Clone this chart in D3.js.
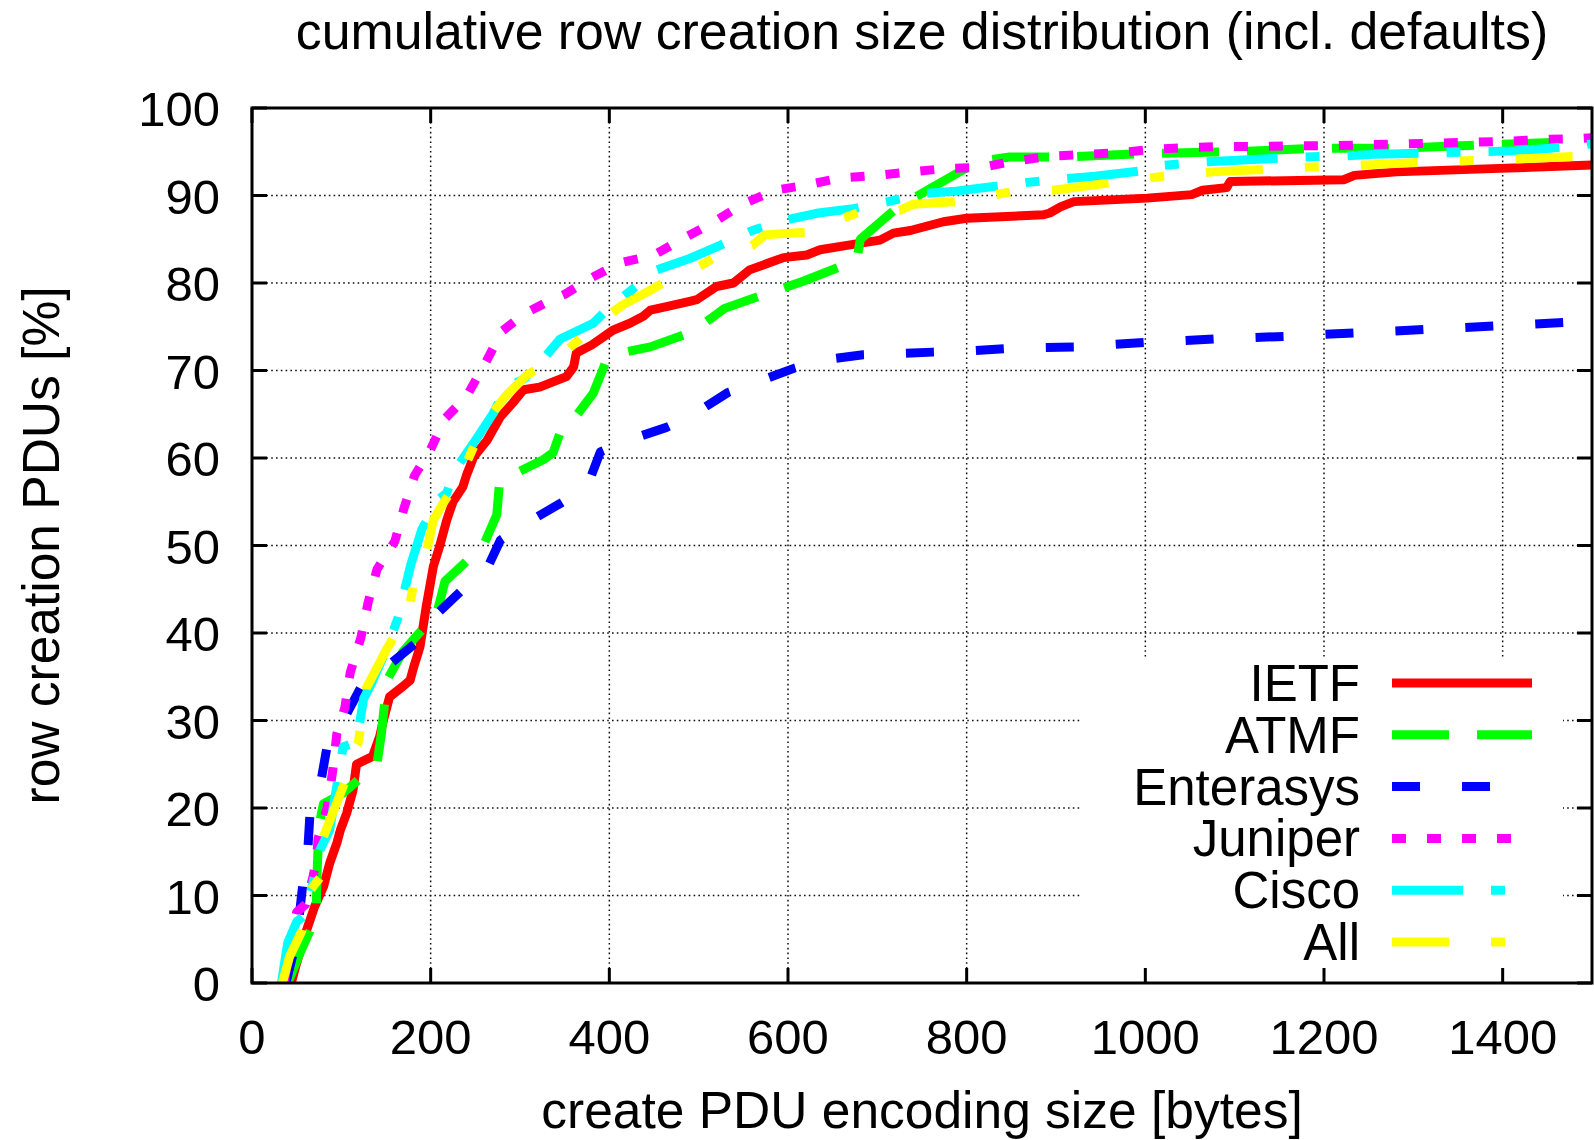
<!DOCTYPE html>
<html>
<head>
<meta charset="utf-8">
<script src="https://cdn.jsdelivr.net/npm/d3@7/dist/d3.min.js"></script>
<style>
body{margin:0;background:#fff;}
text{font-family:"Liberation Sans",Arial,Helvetica,sans-serif;fill:#000;}
</style>
</head>
<body>
<script>

//cumulative curves, [size in bytes, percent]
var ietf = [[44,0],[50,2.3],[61,6],[70,8.7],[80,11],[87,13.7],[95,16],[99,17.5],[106,19.4],[113,22],[117,25],[135,25.9],[143,28.2],[147,30],[154,32.7],[169,33.9],[177,34.6],[181,36.1],[188,38.4],[195,43],[203,47.6],[210,49.9],[218,52.9],[225,55],[236,56.7],[240,58],[248,60.1],[263,62],[278,64.7],[292,66.3],[304,67.8],[322,68.1],[337,68.7],[352,69.3],[360,70.4],[363,72],[380,72.9],[390,73.6],[404,74.6],[423,75.4],[438,76.2],[446,76.9],[464,77.3],[490,77.9],[498,78.1],[520,79.6],[539,80],[557,81.5],[595,82.9],[621,83.2],[636,83.8],[666,84.3],[703,84.9],[718,85.7],[737,86],[774,87],[800,87.4],[886,87.8],[893,88],[905,88.7],[920,89.3],[1002,89.7],[1052,90.1],[1064,90.6],[1091,90.9],[1095,91.6],[1222,91.8],[1234,92.3],[1281,92.7],[1397,93.1],[1500,93.5]];

var atmf = [[40,0],[48,2],[54,3.5],[65,6],[72,8.7],[73,13],[75,18],[80,20.5],[102,21.7],[140,25.1],[145,28.6],[151,34.6],[169,37.9],[207,42.3],[216,45.9],[259,50],[274,53.5],[277,57.1],[296,58.3],[326,59.8],[337,60.6],[345,62.9],[359,64.3],[382,67.4],[397,71.2],[412,72],[446,72.7],[490,74.3],[501,75],[529,77.1],[588,79.2],[617,80.2],[677,82.6],[681,85],[722,88.6],[761,90.9],[813,93.9],[848,94.4],[908,94.4],[1003,94.8],[1098,95],[1193,95.4],[1286,95.4],[1381,95.8],[1500,96.2]];

var enterasys = [[38,0],[50,5],[57,11.4],[62,14.4],[65,19.5],[76,22.4],[84,27],[95,29],[102,30],[123,34],[149,36],[185,39],[203,41.8],[233,44.7],[261,46.9],[278,50.6],[308,52.6],[345,54.8],[375,56.7],[390,60.7],[420,62],[464,63.5],[490,64.7],[533,67.5],[563,68.6],[608,70.3],[638,71.2],[684,71.8],[714,71.9],[762,72.1],[795,72.2],[843,72.5],[873,72.6],[921,72.7],[1000,73.2],[1078,73.6],[1156,73.9],[1235,74.3],[1314,74.7],[1393,75.1],[1471,75.5],[1500,75.6]];

var juniper = [[36,0],[42,4],[50,8.1],[60,9],[68,12],[72,14],[74,16.5],[84,20],[90,24],[95,28.5],[104,31.5],[110,35.5],[122,39.5],[130,43.5],[140,47.3],[160,50.5],[170,54.2],[182,58],[200,61],[216,64.5],[240,67],[262,71],[280,74.5],[305,76.5],[330,77.8],[350,78.7],[380,80.6],[412,82.3],[450,83.2],[483,85.1],[516,86.9],[549,89],[585,90.6],[621,91.2],[658,92],[700,92.3],[738,92.7],[778,93.1],[816,93.2],[852,93.9],[893,94.5],[932,94.7],[971,94.9],[1011,95.3],[1050,95.5],[1090,95.6],[1130,95.6],[1170,95.7],[1210,95.7],[1250,95.8],[1290,95.9],[1330,96],[1370,96.1],[1404,96.2],[1444,96.4],[1483,96.5],[1500,96.6]];

var cisco = [[33,0],[40,4.6],[50,7],[56,7.5],[61,8],[76,15.2],[87,17.5],[102,27],[117,27.5],[125,32.5],[134,34.3],[150,38],[163,41.6],[178,47.9],[190,51.8],[208,55.2],[218,56],[227,58.6],[250,62],[270,65.1],[285,68.1],[304,69],[320,70.6],[345,73.6],[382,75.4],[397,76.9],[425,79.2],[453,81.5],[490,82.8],[524,84.3],[560,86],[597,87.2],[634,88],[673,88.5],[712,89.3],[750,90.2],[788,90.5],[828,91],[868,91.5],[907,91.9],[944,92.2],[994,92.8],[1005,93.3],[1058,93.8],[1098,94],[1138,94.2],[1177,94.4],[1216,94.5],[1256,94.7],[1296,94.8],[1335,94.9],[1373,95],[1414,95.1],[1453,95.4],[1500,95.9]];

var all = [[34,0],[42,3],[56,6],[65,10.6],[78,12.3],[80,16.7],[104,23],[108,25.8],[119,27.5],[128,33.7],[150,38],[175,42.4],[183,46.6],[194,48.6],[203,52.9],[215,55],[233,57.8],[253,62.4],[264,64.5],[285,67.2],[308,69.5],[343,71.5],[359,72.9],[392,75.8],[415,77.5],[443,79],[460,80],[490,81.3],[518,82.9],[560,84.3],[574,85.5],[619,85.8],[650,87],[678,88],[725,88.3],[740,89],[787,89.3],[849,90.4],[897,90.6],[950,91.3],[1020,92.2],[1076,92.7],[1139,93],[1193,93.3],[1249,93.5],[1311,93.8],[1366,94],[1422,94.2],[1485,94.5],[1500,94.6]];

var seriesNames = ["IETF", "ATMF", "Enterasys", "Juniper", "Cisco", "All"];
var seriesData = [ietf, atmf, enterasys, juniper, cisco, all];
var xTicks = [0, 200, 400, 600, 800, 1000, 1200, 1400];
var yTicks = [0, 10, 20, 30, 40, 50, 60, 70, 80, 90, 100];

var titleText = "cumulative row creation size distribution (incl. defaults)";
var xLabel = "create PDU encoding size [bytes]";
var yLabel = "row creation PDUs [%]";

//gnuplot-ish line styles, same order as seriesNames
var colors = ["#ff0000", "#00ff00", "#0000ff", "#ff00ff", "#00ffff", "#ffff00"];
var dashes = ["none", "57,28", "28,42", "14,21", "71,28,14,28", "57,42,14,42"];


var w = 1594, h = 1140,
    margin = {top: 108, right: 2, bottom: 157, left: 252},
    width = w - margin.left - margin.right,
    height = h - margin.top - margin.bottom;

var svg = d3.select("body").append("svg")
    .attr("width", w)
    .attr("height", h);

var x = d3.scaleLinear()
    .domain([0, 1500])
    .range([margin.left, margin.left + width]);

var y = d3.scaleLinear()
    .domain([0, 100])
    .range([margin.top + height, margin.top]);

//grid
var grid = svg.append("g")
    .attr("stroke", "#111")
    .attr("stroke-width", 1.5)
    .attr("stroke-dasharray", "1.6,3.2");

grid.selectAll(".vgrid")
  .data(xTicks.filter(function(d){return d>0;}))
  .enter().append("line")
    .attr("x1", function(d){return x(d);})
    .attr("x2", function(d){return x(d);})
    .attr("y1", y(0))
    .attr("y2", y(100));

grid.selectAll(".hgrid")
  .data(yTicks.filter(function(d){return d>0 && d<100;}))
  .enter().append("line")
    .attr("x1", x(0))
    .attr("x2", x(1500))
    .attr("y1", function(d){return y(d);})
    .attr("y2", function(d){return y(d);});

//curves
svg.append("clipPath").attr("id", "plotclip")
  .append("rect")
    .attr("x", x(0)).attr("y", y(100))
    .attr("width", width).attr("height", height);

var line = d3.line()
    .x(function(d){return x(d[0]);})
    .y(function(d){return y(d[1]);});

svg.append("g")
    .attr("clip-path", "url(#plotclip)")
  .selectAll("path")
  .data(seriesData)
  .enter().append("path")
    .attr("d", line)
    .attr("fill", "none")
    .attr("stroke", function(d, i){return colors[i];})
    .attr("stroke-width", 9)
    .attr("stroke-linejoin", "round")
    .attr("stroke-dasharray", function(d, i){return dashes[i];});

//key, opaque box
var keyTop = 657, keyRow = 51.8;
svg.append("rect")
    .attr("x", 1082).attr("y", keyTop)
    .attr("width", 1563 - 1082).attr("height", 968 - keyTop)
    .attr("fill", "#fff");

var key = svg.selectAll(".key")
  .data(seriesNames)
  .enter().append("g")
    .attr("class", "key")
    .attr("transform", function(d, i){return "translate(0," + (683 + i * keyRow) + ")";});

key.append("text")
    .attr("x", 1360)
    .attr("y", 18)
    .attr("text-anchor", "end")
    .style("font-size", "51px")
    .text(function(d){return d;});

key.append("line")
    .attr("x1", 1392).attr("x2", 1532)
    .attr("y1", 0).attr("y2", 0)
    .attr("stroke", function(d, i){return colors[i];})
    .attr("stroke-width", 9)
    .attr("stroke-dasharray", function(d, i){return dashes[i];});

//border + ticks (mirrored)
var frame = svg.append("g").attr("stroke", "#000").attr("stroke-width", 3);

frame.append("rect")
    .attr("x", x(0)).attr("y", y(100))
    .attr("width", width).attr("height", height)
    .attr("fill", "none");

var tl = 15;
xTicks.forEach(function(t){
	frame.append("line").attr("x1", x(t)).attr("x2", x(t)).attr("y1", y(0)).attr("y2", y(0) - tl);
	frame.append("line").attr("x1", x(t)).attr("x2", x(t)).attr("y1", y(100)).attr("y2", y(100) + tl);
});
yTicks.forEach(function(t){
	frame.append("line").attr("x1", x(0)).attr("x2", x(0) + tl).attr("y1", y(t)).attr("y2", y(t));
	frame.append("line").attr("x1", x(1500)).attr("x2", x(1500) - tl).attr("y1", y(t)).attr("y2", y(t));
});

//tick labels
svg.selectAll(".xlab")
  .data(xTicks)
  .enter().append("text")
    .attr("x", function(d){return x(d);})
    .attr("y", 1054)
    .attr("text-anchor", "middle")
    .style("font-size", "49px")
    .text(function(d){return d;});

svg.selectAll(".ylab")
  .data(yTicks)
  .enter().append("text")
    .attr("x", 220)
    .attr("y", function(d){return y(d) + 18;})
    .attr("text-anchor", "end")
    .style("font-size", "49px")
    .text(function(d){return d;});

//titles
svg.append("text")
    .attr("x", x(750))
    .attr("y", 49)
    .attr("text-anchor", "middle")
    .style("font-size", "51.8px")
    .text(titleText);

svg.append("text")
    .attr("x", x(750))
    .attr("y", 1128)
    .attr("text-anchor", "middle")
    .style("font-size", "51.5px")
    .text(xLabel);

svg.append("text")
    .attr("transform", "translate(59," + y(50) + ") rotate(-90)")
    .attr("text-anchor", "middle")
    .style("font-size", "51.5px")
    .text(yLabel);

</script>
</body>
</html>
